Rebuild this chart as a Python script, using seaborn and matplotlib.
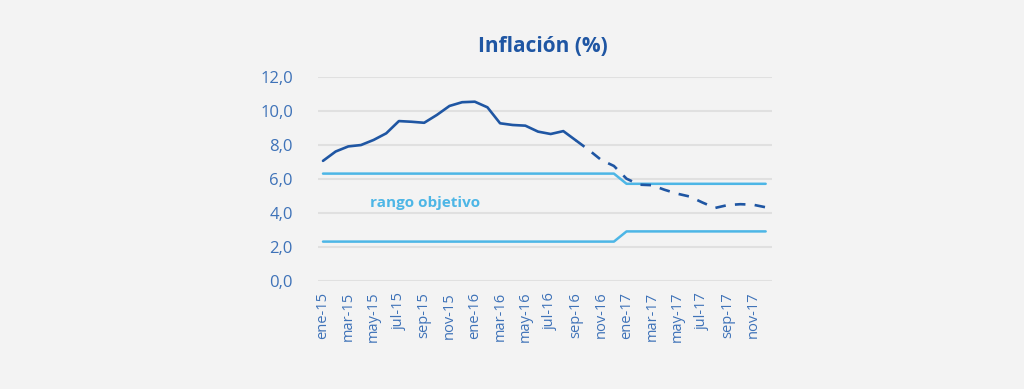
import matplotlib.pyplot as plt
import numpy as np
import pandas as pd
import seaborn as sns

# Data (monthly, ene-15 .. dic-17)
months = ['ene', 'feb', 'mar', 'abr', 'may', 'jun',
          'jul', 'ago', 'sep', 'oct', 'nov', 'dic']
labels = [f'{m}-{y}' for y in ['15', '16', '17'] for m in months]

inflacion = [7.05, 7.6, 7.9, 7.98, 8.28, 8.67, 9.39, 9.35, 9.29, 9.75,
             10.28, 10.5, 10.53, 10.2, 9.26, 9.16, 9.12, 8.77, 8.63, 8.8, 8.25]
expectativa = [8.25, 7.7, 7.1, 6.75, 6.0, 5.65, 5.62, 5.35, 5.12, 4.95,
               4.6, 4.28, 4.45, 4.5, 4.47, 4.32]
techo = [6.3] * 24 + [5.7] * 12
piso = [2.3] * 24 + [2.9] * 12

idx = np.arange(len(labels))
df_inf = pd.DataFrame({'i': idx[:len(inflacion)], 'v': inflacion})
df_exp = pd.DataFrame({'i': idx[len(inflacion) - 1:], 'v': expectativa})
df_rango = pd.DataFrame({'i': idx, 'techo': techo, 'piso': piso})

# Style
bg = '#f3f3f3'
dark = '#1f56a3'
light = '#4db6e6'
tick_col = '#3e72b8'

sns.set_style('white')
plt.rcParams['font.family'] = ['Open Sans', 'DejaVu Sans']

fig = plt.figure(figsize=(10.24, 3.89), dpi=100, facecolor=bg)
ax = fig.add_axes([0.3105, 0.2784, 0.4434, 0.5244])
ax.set_facecolor(bg)

sns.lineplot(data=df_rango, x='i', y='techo', ax=ax, color=light, linewidth=1.8)
sns.lineplot(data=df_rango, x='i', y='piso', ax=ax, color=light, linewidth=1.8)
sns.lineplot(data=df_inf, x='i', y='v', ax=ax, color=dark, linewidth=1.9)
sns.lineplot(data=df_exp, x='i', y='v', ax=ax, color=dark, linewidth=1.9,
             linestyle=(0, (4, 3.5)))

ax.text(8.1, 4.55, 'rango objetivo', color=light, fontsize=11,
        fontweight='bold', ha='center', va='center')

ax.set_xlim(-0.4, 35.5)
ax.set_ylim(0, 12)
ax.set_yticks(np.arange(0, 12.1, 2))
ax.set_yticklabels([f'{v:.1f}'.replace('.', ',') for v in np.arange(0, 12.1, 2)],
                   color=tick_col, fontsize=12)
ax.set_xticks(idx[::2])
ax.set_xticklabels(labels[::2], rotation=90, color=tick_col, fontsize=10.5)
ax.tick_params(axis='y', length=0, pad=18)
ax.tick_params(axis='x', length=0, pad=8)
ax.grid(axis='y', color='#e0e0e0', linewidth=1.5)
ax.set_axisbelow(True)
for s in ax.spines.values():
    s.set_visible(False)
ax.set_xlabel('')
ax.set_ylabel('')

fig.text(0.53, 0.88, 'Inflación (%)', color=dark, fontsize=15,
         fontweight='bold', ha='center', va='center')

fig.savefig('out.png', dpi=100, facecolor=bg)
